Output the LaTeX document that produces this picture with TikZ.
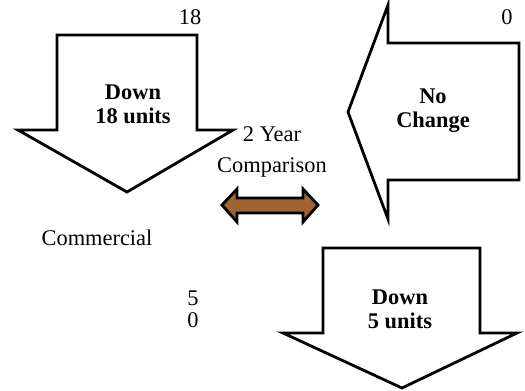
\documentclass[tikz,border=0pt]{standalone}
\usepackage{fontspec}
\setmainfont{Liberation Serif}
\definecolor{bronze}{RGB}{160,100,48}
\tikzset{
  bigarrow/.style={draw, line width=1.4pt, fill=white, line join=miter},
  twinarrow/.style={draw, line width=1.4pt, fill=bronze, line join=miter},
  plain/.style={font=\fontsize{11.2}{15.5}\selectfont, align=center, inner sep=0pt},
  strong/.style={font=\fontsize{11.2}{12}\selectfont\bfseries, align=center, inner sep=0pt}
}
\begin{document}
\begin{tikzpicture}[x=0.5pt, y=-0.5pt]
    \useasboundingbox (0,0) rectangle (525,391);

    % Pfeil links oben
    \draw[bigarrow] (57,35) -- (197,35) -- (197,130) -- (233,130) -- (127,192)
        -- (18,130) -- (57,130) -- cycle;
    \node[strong] (down18) at (133,104) {Down\\18 units};
    \node[plain] (val18) at (190,17) {18};

    % Pfeil rechts oben
    \draw[bigarrow] (348,112) -- (388,5) -- (388,43) -- (519,43) -- (519,180)
        -- (388,180) -- (388,219) -- cycle;
    \node[strong] (nochange) at (433,111) {No\\Change};
    \node[plain] (val0) at (507,17) {0};

    % Vergleich
    \node[plain] (compare) at (272,152) {2 Year\\Comparison};
    \draw[twinarrow] (222,205) -- (237,189) -- (237,198) -- (303,198) -- (303,189)
        -- (318,205) -- (303,222) -- (303,213) -- (237,213) -- (237,222) -- cycle;

    % Beschriftung links unten
    \node[plain] (commercial) at (97,238) {Commercial};
    \node[plain] (val5) at (193,298) {5};
    \node[plain] (valzero) at (193,320) {0};

    % Pfeil unten
    \draw[bigarrow] (323,248) -- (480,248) -- (480,333) -- (517,333) -- (402,388)
        -- (283,333) -- (323,333) -- cycle;
    \node[strong] (down5) at (400,309) {Down\\5 units};
\end{tikzpicture}
\end{document}
